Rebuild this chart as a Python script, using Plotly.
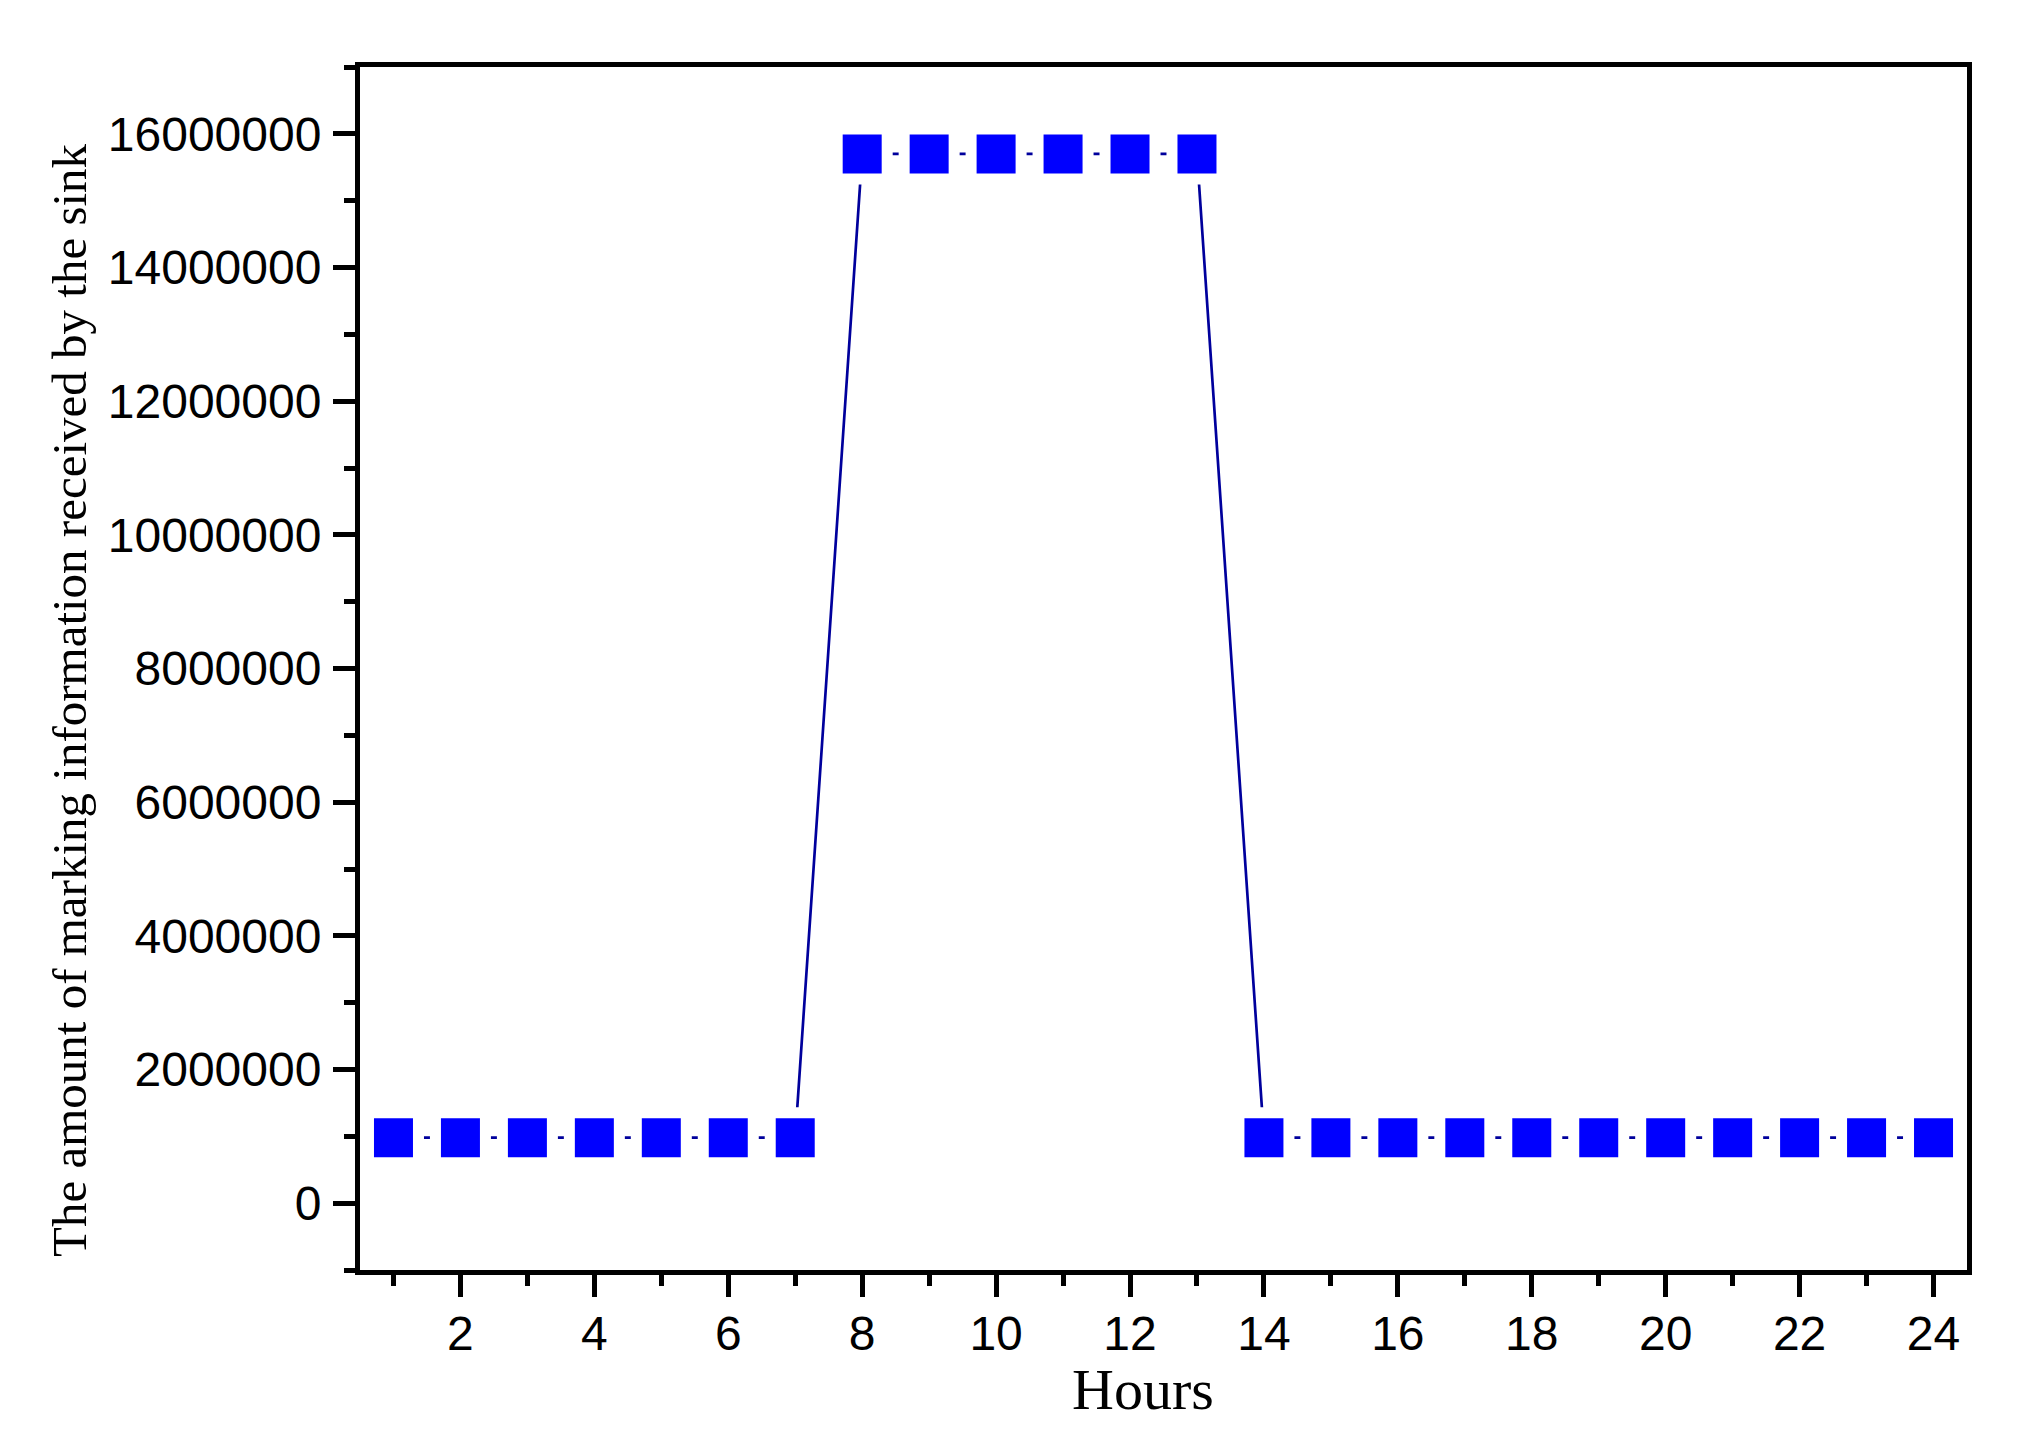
import plotly.graph_objects as go

# ---- data ----
hours = [1, 2, 3, 4, 5, 6, 7, 8, 9, 10, 11, 12, 13, 14, 15, 16, 17, 18, 19, 20, 21, 22, 23, 24]
marking_amount = [980000, 980000, 980000, 980000, 980000, 980000, 980000,
                  15700000, 15700000, 15700000, 15700000, 15700000, 15700000,
                  980000, 980000, 980000, 980000, 980000, 980000, 980000, 980000, 980000, 980000, 980000]
x_title = "Hours"
y_title = "The amount of marking information received by the sink"

# ---- layout constants ----
W, H = 2019, 1441
L, R, T, B = 360, 52, 67, 171
PW, PH = W - L - R, H - T - B

def px_x(p):
    return (p - L) / PW

def px_y(p):
    return 1 - (p - T) / PH

fig = go.Figure()

# connecting line with gaps around symbols (white squares mask the line)
fig.add_trace(go.Scatter(
    x=hours, y=marking_amount, mode="lines+markers",
    line=dict(color="#00009C", width=2.7),
    marker=dict(symbol="square", size=61, color="white", line=dict(width=0)),
    hoverinfo="skip", showlegend=False,
))
# blue square symbols
fig.add_trace(go.Scatter(
    x=hours, y=marking_amount, mode="markers",
    marker=dict(symbol="square", size=39, color="#0000FF", line=dict(width=0)),
    showlegend=False,
))

axis_common = dict(
    showgrid=False, zeroline=False, showline=True, linecolor="black", linewidth=5,
    mirror=True, ticks="outside", ticklen=22, tickwidth=5, tickcolor="black",
    tickfont=dict(family="Liberation Sans, Arial, sans-serif", size=48, color="black"),
)

fig.update_xaxes(
    range=[0.5, 24.5], tick0=0, dtick=2, ticklabelstandoff=-5,
    minor=dict(dtick=1, ticks="outside", ticklen=11, tickwidth=5, tickcolor="black"),
    **axis_common,
)
fig.update_yaxes(
    range=[-1000000, 17000000], tick0=0, dtick=2000000, tickformat="d", ticklabelstandoff=2,
    minor=dict(dtick=1000000, ticks="outside", ticklen=11, tickwidth=5, tickcolor="black"),
    **axis_common,
)

fig.add_annotation(
    text=x_title, xref="paper", yref="paper",
    x=px_x(1143), y=px_y(1389), xanchor="center", yanchor="middle",
    showarrow=False, font=dict(family="Liberation Serif, Times New Roman, serif", size=58, color="black"),
)
fig.add_annotation(
    text=y_title, xref="paper", yref="paper", textangle=-90,
    x=px_x(69), y=px_y(700), xanchor="center", yanchor="middle",
    showarrow=False, font=dict(family="Liberation Serif, Times New Roman, serif", size=49, color="black"),
)

fig.update_layout(
    width=W, height=H,
    margin=dict(l=L, r=R, t=T, b=B, pad=0),
    plot_bgcolor="white", paper_bgcolor="white",
    showlegend=False,
)

fig.write_html("out.html", config={"displayModeBar": False},
               post_script="document.body.style.margin='0';document.body.style.overflow='hidden';")
